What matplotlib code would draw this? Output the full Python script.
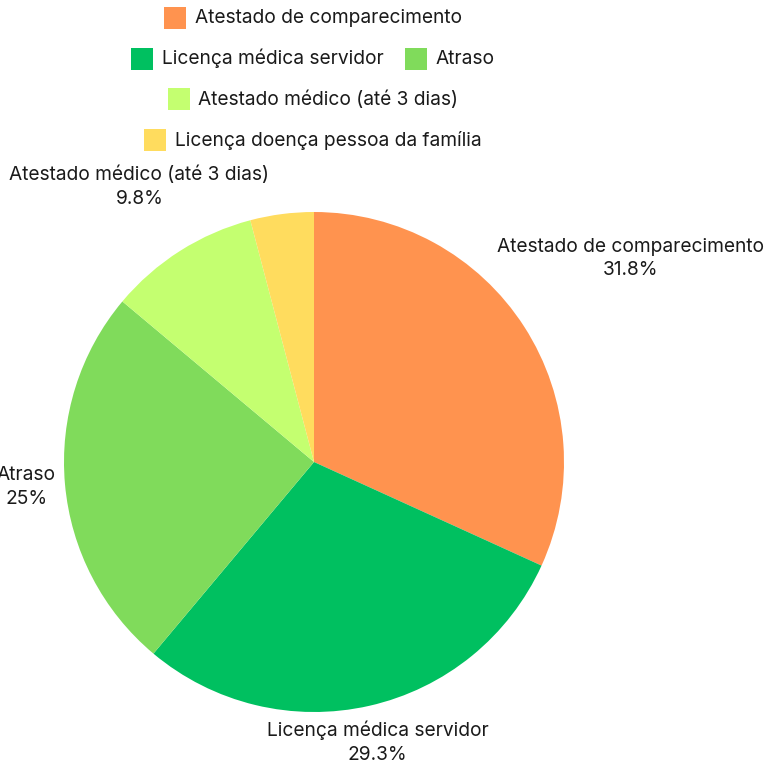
import matplotlib
matplotlib.use("Agg")
import matplotlib.pyplot as plt
from matplotlib.patches import Rectangle
import numpy as np

categories = ["Atestado de comparecimento", "Licença médica servidor", "Atraso",
              "Atestado médico (até 3 dias)", "Licença doença pessoa da família"]
values = [31.8, 29.3, 25.0, 9.8, 4.1]
pct_labels = ["31.8%", "29.3%", "25%", "9.8%", None]
colors = ["#FF934F", "#00C060", "#80DB5B", "#C4FF70", "#FFDC5E"]

W, H = 769, 765
FONT = "Inter"
FS = 13.8

fig = plt.figure(figsize=(W / 100, H / 100), dpi=100)
ax = fig.add_axes([0, 0, 1, 1])
ax.set_xlim(0, W)
ax.set_ylim(0, H)
ax.set_aspect("equal")
ax.axis("off")

cx, cy, R = 314, H - 462, 250
wedges, _ = ax.pie(values, colors=colors, startangle=90, counterclock=False,
                   center=(cx, cy), radius=R, frame=True,
                   wedgeprops=dict(linewidth=0))
ax.set_xlim(0, W)
ax.set_ylim(0, H)
ax.axis("off")

fig.canvas.draw()
renderer = fig.canvas.get_renderer()

# slice labels placed just outside the circle along mid-angle
for w, cat, pl in zip(wedges, categories, pct_labels):
    if pl is None:
        continue
    ang = np.deg2rad((w.theta1 + w.theta2) / 2)
    t = ax.text(cx, cy, f"{cat}\n{pl}", ha="center", va="center", fontsize=FS,
                family=FONT, color="#1a1a1a", linespacing=1.42)
    bb = t.get_window_extent(renderer)
    hw, hh = bb.width / 2, bb.height / 2
    d = R
    while True:
        px, py = cx + d * np.cos(ang), cy + d * np.sin(ang)
        nx = np.clip(cx, px - hw, px + hw)
        ny = np.clip(cy, py - hh, py + hh)
        if np.hypot(nx - cx, ny - cy) >= R * 1.03:
            break
        d += 1
    t.set_position((px, py))

# legend: centered rows with greedy wrapping
sq, gap_t, gap_i, maxw = 22, 9, 21, 470
items = []
for cat, col in zip(categories, colors):
    t = ax.text(0, 0, cat, fontsize=FS, family=FONT, color="#1a1a1a")
    wdt = t.get_window_extent(renderer).width
    t.remove()
    items.append((cat, col, sq + gap_t + wdt))
rows, cur, curw = [], [], 0
for it in items:
    add = it[2] + (gap_i if cur else 0)
    if cur and curw + add > maxw:
        rows.append(cur)
        cur, curw = [it], it[2]
    else:
        cur.append(it)
        curw += add
rows.append(cur)
y0, dy = H - 18, 40.7
for r, row in enumerate(rows):
    tot = sum(i[2] for i in row) + gap_i * (len(row) - 1)
    x = 313 - tot / 2
    y = y0 - r * dy
    for cat, col, wdt in row:
        ax.add_patch(Rectangle((x, y - sq / 2), sq, sq, color=col, lw=0))
        ax.text(x + sq + gap_t, y, cat, fontsize=FS, family=FONT, color="#1a1a1a",
                ha="left", va="center")
        x += wdt + gap_i

fig.savefig("out.png", dpi=100)
